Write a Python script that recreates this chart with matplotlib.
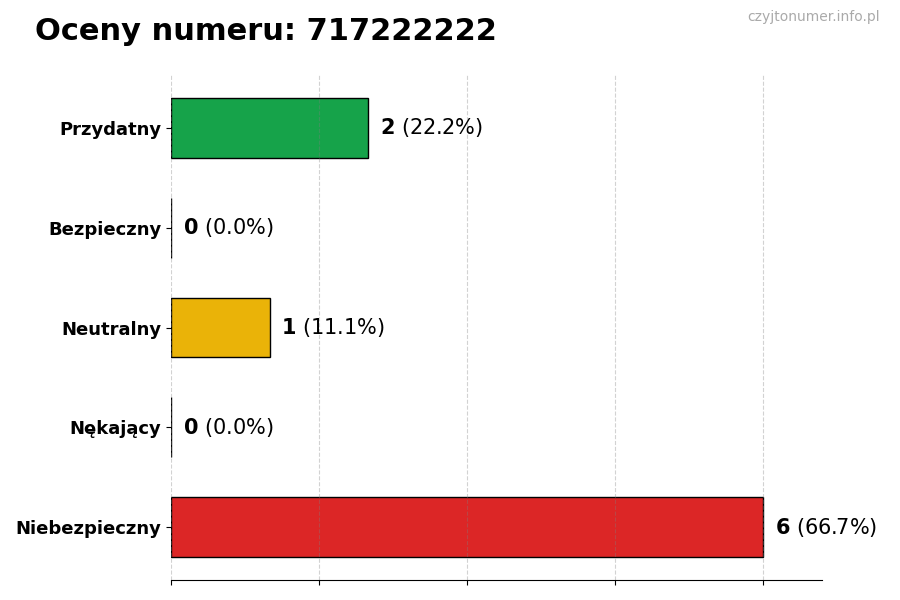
import matplotlib
matplotlib.use("Agg")
import matplotlib.pyplot as pyplot

# --- Data ---
categories = ["Przydatny", "Bezpieczny", "Neutralny", "Nękający", "Niebezpieczny"]
counts = [2, 0, 1, 0, 6]
colors = ["#16a34a", "#22c55e", "#eab308", "#f97316", "#dc2626"]
phoneNumber = "717222222"
watermark = "czyjtonumer.info.pl"

total = sum(counts)
positions = list(range(len(categories)))[::-1]

figure = pyplot.figure(figsize=(9, 6), dpi=100)
axis = figure.add_axes([0.19, 0.0333, 0.7233, 0.8417])

axis.barh(positions, counts, height=0.6, color=colors,
          edgecolor="black", linewidth=1.0)

for pos, value in zip(positions, counts):
    share = 100.0 * value / total
    axis.annotate(
        f"$\\mathbf{{{value}}}$ ({share:.1f}%)",
        xy=(value, pos), xytext=(8.5, 0), textcoords="offset points",
        va="center", ha="left", fontsize=15
    )

axis.set_yticks(positions)
axis.set_yticklabels(categories, fontsize=13, fontweight="bold")
axis.set_xlim(0, max(counts) * 1.1)
axis.set_xticks([0, 1.5, 3, 4.5, 6])
axis.set_xticklabels([])

axis.grid(axis="x", linestyle="--", color="gray", alpha=0.35, linewidth=0.8)
for side in ["top", "right", "left"]:
    axis.spines[side].set_visible(False)

figure.text(0.039, 0.948, f"Oceny numeru: {phoneNumber}",
            fontsize=22, fontweight="bold", va="center", ha="left")
figure.text(0.978, 0.971, watermark, fontsize=10, color="#aaaaaa",
            va="center", ha="right")

figure.savefig("out.png", dpi=100)
